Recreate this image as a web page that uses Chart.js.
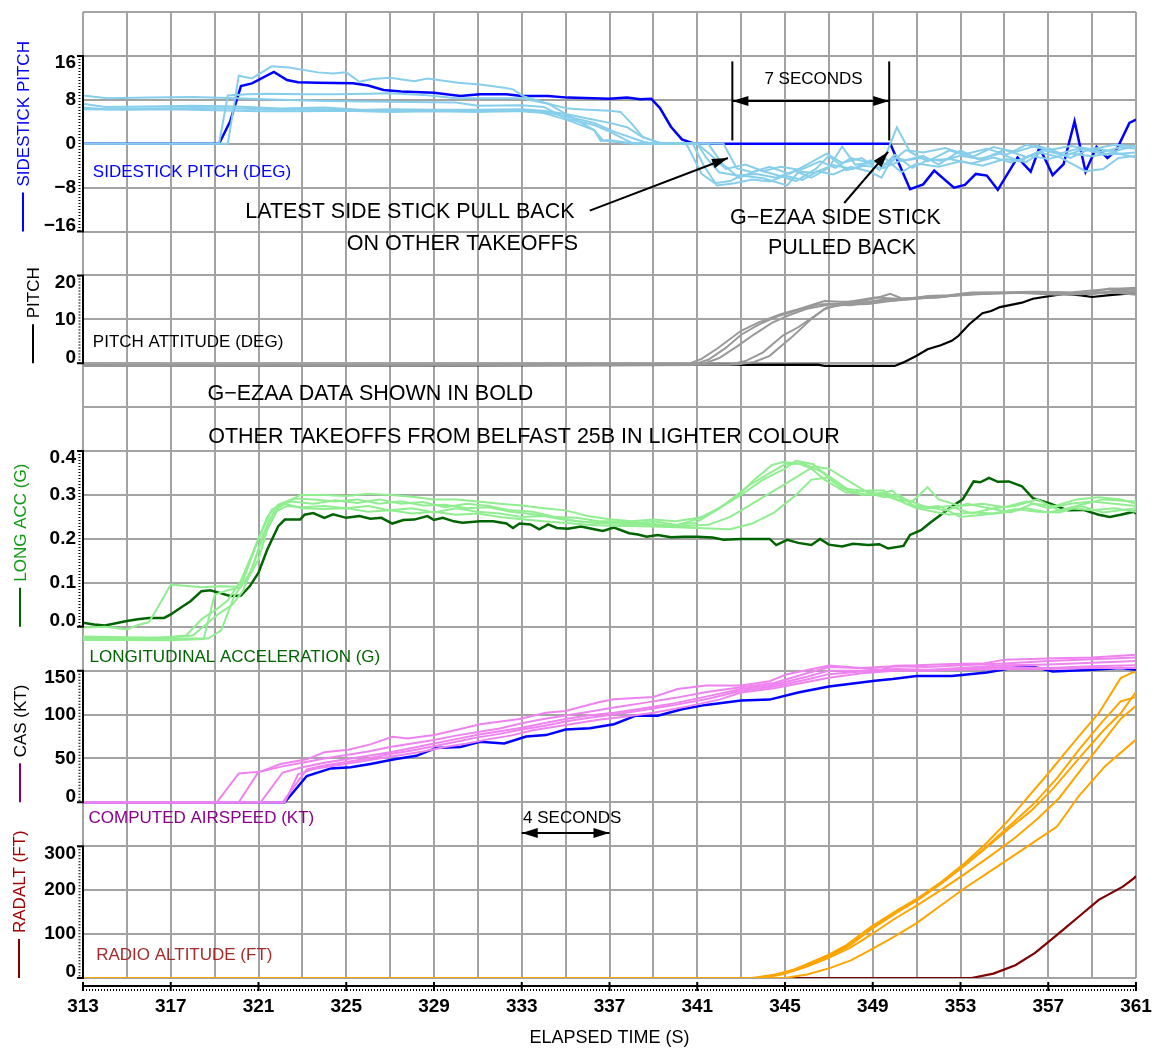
<!DOCTYPE html>
<html>
<head>
<meta charset="utf-8">
<title>G-EZAA takeoff comparison</title>
<script src="https://cdn.jsdelivr.net/npm/chart.js@4/dist/chart.umd.min.js"></script>
<style>
  html, body { margin: 0; padding: 0; background: #fff; }
  #wrap { width: 1153px; height: 1050px; position: relative; }
</style>
</head>
<body>
<div id="wrap"><canvas id="chart"></canvas></div>
<script>
// tick labels
const xTicks = [313, 317, 321, 325, 329, 333, 337, 341, 345, 349, 353, 357, 361];
const stickTicks = [16, 8, 0, -8, -16];
const pitchTicks = [20, 10, 0];
const accTicks = [0.4, 0.3, 0.2, 0.1, 0.0];
const casTicks = [150, 100, 50, 0];
const radaltTicks = [300, 200, 100, 0];

// sidestick pitch (deg) - [time, value]
const stickEzaa = [[313,0],[319.2,0],[319.7,4],[320.2,10.5],[320.7,11],[321.7,13.1],[322.3,11.6],[322.8,11.2],[323.7,11.1],[325.3,11.0],[326,10.6],[326.7,9.8],[327.5,9.5],[329,9.3],[330.2,8.7],[331.1,9.0],[332.3,9.0],[333,8.7],[334.2,8.7],[335.1,8.4],[337,8.2],[337.8,8.4],[338.4,8.1],[338.9,8.2],[339.3,6.5],[339.8,3.1],[340.3,0.8],[340.8,0.1],[341.2,0],[349.8,0],[350.7,-8.3],[351.3,-7.4],[351.8,-4.9],[352.7,-8],[353.2,-7.5],[353.7,-5.5],[354.2,-5.8],[354.7,-8.4],[355.6,-2.5],[356.2,-5.1],[356.6,-0.7],[357.2,-5.7],[357.7,-3.7],[358.2,4.1],[358.7,-5.1],[359.2,-0.6],[359.7,-2.6],[360.1,-1.2],[360.7,3.8],[361,4.4]];
const stickOthers = [
  [[313,0],[319.2,0],[319.6,8.8],[320.5,9.0],[321.5,9.1],[323,9.0],[324.5,9.0],[326,9.1],[327,9.2],[328.5,8.9],[330,8.3],[332,8.3],[333,8.3],[334.2,7.3],[335.1,6.4],[336,6.2],[337,6.0],[337.5,5.8],[338,3.7],[338.5,1.3],[339.2,0.2],[340.5,0],[341.2,-5.5],[341.8,-7.2],[342.5,-6.8],[343,-5.8],[344,-6.3],[345.1,-7.6],[345.6,-5.2],[346.2,-6.2],[347,-4.4],[347.6,-0.5],[348.2,-3.8],[349,-3.5],[349.6,-2],[350.1,3.0],[350.7,-1.5],[351.5,-3.2],[352.5,-1.2],[353.5,-2.5],[354.5,-0.6],[355.5,-1.5],[356.5,-0.3],[357.5,-1.8],[358.5,-0.8],[359.5,-1.5],[360.3,-0.6],[361,-0.9]],
  [[313,0],[319.6,0],[320.1,12.4],[320.7,11.9],[321.6,14.1],[322.4,13.9],[323.7,13.0],[324.4,12.8],[325,13.0],[325.6,11.3],[326.2,11.8],[327,12.0],[328.1,11.4],[328.7,11.9],[330.1,11.1],[331.1,10.8],[332.2,10.2],[332.6,9.9],[333.1,8.6],[334.2,7.3],[335.1,5.2],[336.3,2.5],[336.6,0.5],[337,0.7],[338.1,0],[340.8,0],[341.3,-4],[341.9,-7.6],[342.7,-7.2],[343.5,-6.5],[344.3,-6.9],[345,-5.8],[345.8,-6.6],[346.5,-5],[347.2,-5.6],[348,-4.2],[348.8,-5],[349.4,-6.2],[349.9,-2.5],[350.5,-3],[351.3,-2.2],[352,-3.8],[353,-1.2],[353.8,-2.8],[354.8,-1.8],[355.7,-3.2],[356.5,-1.5],[357.5,-2.4],[358.7,-5],[359.5,-4.6],[360.2,-2.6],[361,-2.2]],
  [[313,8.8],[314.1,8.3],[316,8.4],[318,8.5],[320,8.3],[322,8.0],[324,7.8],[326,7.7],[328,7.6],[330,7.5],[331,6.9],[333,7.0],[334,6.7],[335.1,4.5],[336.3,3.4],[337,2.2],[338,0.2],[342.2,0],[342.8,-4.5],[343.5,-5.2],[344.3,-4.2],[345.2,-5.5],[346,-3.8],[346.9,-1.8],[347.6,-3.5],[348.5,-2.6],[349.3,-4.8],[350,-2],[350.8,-4.4],[351.5,-3],[352.5,-2.8],[353.5,-3.6],[354.5,-2.5],[355.3,-3.4],[356.2,-2.2],[357,-2.8],[358,-1.8],[359,-2.3],[360,-1.6],[361,-2.5]],
  [[313,7.3],[314,6.7],[316,6.8],[318,6.9],[320,6.8],[322,6.4],[324,6.6],[326,6.1],[328,6.0],[330,6.1],[332,5.9],[333,5.9],[334,5.6],[335.1,4.3],[336.3,2.5],[336.7,0.6],[338.1,0],[341,0],[341.6,-2],[342.3,-4.6],[343.2,-3.8],[344,-5],[344.8,-4.2],[345.7,-4.8],[346.6,-3.2],[347.3,-4.4],[348,-2.6],[348.8,-3.4],[349.6,-2.8],[350.3,-5.2],[351,-3.6],[352,-4.2],[353,-3.2],[354,-4],[355,-2.8],[356,-3.3],[356.8,-1.2],[357.8,-2.2],[358.6,-1],[359.6,-2],[361,-1.6]],
  [[313,6.3],[315,6.2],[317,6.3],[319,6.1],[321,5.9],[323,5.9],[325,6.0],[327,5.8],[329,5.9],[331,5.8],[333,6.0],[334,5.8],[335.1,4.9],[336.3,3.8],[337.2,2.2],[338.5,0.4],[339,0],[341,0],[341.4,-2.5],[342,-5.2],[342.8,-5.8],[343.7,-5.5],[344.6,-6.2],[345.4,-5],[346.3,-5.3],[347.2,-3.9],[348.1,-4.6],[348.9,-3],[349.7,-3.8],[350.5,-1.2],[351.3,-1.6],[352.3,-0.8],[353.2,-1.9],[354.2,-0.9],[355.1,-2],[356,-0.2],[357,-1.2],[358,-0.4],[359,-1],[360,-0.2],[361,-0.5]],
  [[313,6.6],[314,6.3],[316,6.4],[318,6.5],[320,6.4],[322,6.2],[324,6.3],[325,6.1],[327,6.3],[329,6.2],[331,6.2],[333,6.3],[334,6.0],[335,5.4],[336,4.6],[337,3.8],[337.8,3.0],[338.5,1.2],[339.3,0.2],[341.5,0],[342.1,-3.5],[342.9,-6.2],[343.8,-4.8],[344.7,-5.8],[345.5,-6.8],[346.4,-4.6],[347,-2.2],[347.8,-4.8],[348.6,-4],[349.5,-4.4],[350.2,-3.2],[351.2,-2.6],[352.1,-3.1],[353,-2.2],[354,-2.8],[355,-1.1],[356,-2.4],[357,-0.8],[358,-2.6],[359,-0.8],[360,-1.4],[361,-0.3]]
];

// pitch attitude (deg)
const pitchEzaa = [[313,-0.6],[318,-0.6],[324,-0.5],[330,-0.5],[336,-0.4],[346.5,-0.3],[346.8,-0.6],[350,-0.6],[350.4,0.2],[351,1.7],[351.5,3.2],[352.1,4.1],[352.6,5.1],[352.9,6.2],[353.4,8.9],[354,11.4],[354.4,11.9],[354.8,12.8],[355.8,13.8],[356.3,14.7],[357.7,15.8],[358.4,15.5],[359,15.1],[359.8,15.5],[361,16]];
const pitchOthers = [
  [[313,-0.6],[320,-0.5],[330,-0.4],[340.5,-0.3],[341.2,1.0],[341.9,3.3],[343,7.4],[343.8,9.3],[344.8,11.2],[345.6,12.3],[346.8,14.2],[347.5,14.0],[348.4,14.0],[349.4,15.2],[349.8,15.8],[350.3,14.8],[351.8,15.0],[353.4,16.0],[355.8,16.0],[357.4,15.6],[359,16.2],[359.8,17],[361,16.8]],
  [[313,-0.5],[325,-0.4],[340.8,-0.3],[341.5,0.8],[342.3,3.5],[343,6.5],[343.8,8.8],[344.6,10.6],[345.5,12],[346.5,13.4],[347.5,13.6],[348.5,13.8],[349.5,14.5],[350.5,14.5],[351.5,15.3],[352.5,15.5],[353.5,16.1],[355,16.2],[356.5,16.3],[358,16.1],[359.5,16.8],[361,17.2]],
  [[313,-0.6],[326,-0.5],[341.2,-0.3],[342,1.2],[342.8,3.8],[343.6,6.6],[344.4,9.2],[345.2,11],[346,12.4],[347,13.4],[348,13.2],[349,14],[350,14.3],[351,15],[352,15],[353,15.6],[354.5,16],[356,16],[357.5,16.2],[359,15.8],[360,16.5],[361,16.4]],
  [[313,-0.5],[328,-0.4],[342.5,-0.3],[343.2,0.5],[344,2.5],[344.9,6.3],[345.6,8.2],[346.8,12.3],[347.8,13.9],[349.1,15.0],[350.5,14.6],[352,15.1],[353.5,15.8],[355,16],[357,16],[358,15.6],[359,16],[360,16.3],[361,16]],
  [[313,-0.4],[330,-0.4],[342.8,-0.3],[343.6,0.3],[344.3,1.7],[345.3,5.9],[346.2,10.1],[346.9,12.7],[347.8,13.4],[348.8,13.5],[349.8,14.2],[351,14.7],[352.5,15.3],[354,15.8],[355.5,16],[357,16],[358.5,15.7],[360,16.1],[361,15.6]]
];

// longitudinal acceleration (g)
const accEzaa = [[313,0.009],[313.5,0.005],[314,0.003],[314.5,0.008],[315,0.013],[315.5,0.017],[316,0.02],[316.7,0.02],[317,0.028],[317.5,0.045],[317.9,0.058],[318.4,0.081],[318.8,0.083],[319.3,0.076],[319.7,0.07],[320.2,0.071],[320.6,0.092],[321,0.123],[321.4,0.176],[321.9,0.229],[322.2,0.244],[322.9,0.244],[323.1,0.255],[323.5,0.259],[324,0.248],[324.4,0.256],[325,0.248],[325.6,0.252],[326.1,0.246],[326.6,0.248],[327.1,0.235],[327.6,0.243],[328.1,0.244],[328.7,0.252],[329,0.243],[329.4,0.248],[329.9,0.24],[330.3,0.237],[331.1,0.24],[331.7,0.24],[332.3,0.235],[332.6,0.225],[332.9,0.235],[333.4,0.233],[333.8,0.222],[334.2,0.233],[334.6,0.225],[335.1,0.223],[335.7,0.228],[336.3,0.222],[336.7,0.218],[337.2,0.226],[337.9,0.213],[338.3,0.21],[338.7,0.205],[339.2,0.209],[339.8,0.204],[340.4,0.205],[341,0.205],[341.7,0.203],[342.2,0.198],[343,0.2],[344.3,0.2],[344.6,0.186],[345.1,0.198],[345.6,0.191],[346.2,0.186],[346.6,0.2],[347,0.187],[347.6,0.183],[348.1,0.189],[348.8,0.186],[349.3,0.188],[349.7,0.178],[350.4,0.184],[350.7,0.209],[351.2,0.22],[351.6,0.236],[352,0.251],[352.6,0.274],[353.1,0.29],[353.6,0.331],[353.9,0.329],[354.3,0.339],[354.7,0.33],[355.2,0.331],[355.8,0.32],[356.3,0.293],[357.1,0.28],[357.9,0.265],[358.6,0.266],[359.3,0.255],[359.8,0.25],[360.3,0.255],[360.9,0.262],[361,0.258]];
const accOthers = [
  [[313,-0.002],[314,0],[315,-0.006],[315.5,0.004],[316,0.01],[316.4,0.043],[317,0.096],[317.5,0.094],[318.4,0.09],[319.3,0.092],[320,0.091],[320.5,0.108],[321,0.153],[321.4,0.221],[321.9,0.27],[322.5,0.289],[322.9,0.3],[324,0.3],[325,0.298],[326,0.303],[327,0.3],[328,0.296],[329,0.29],[330,0.29],[331,0.285],[332,0.28],[333,0.276],[334,0.27],[335,0.265],[336,0.252],[337,0.245],[338,0.24],[339,0.244],[340,0.24],[341.3,0.25],[342.3,0.28],[343.3,0.32],[344.3,0.35],[345,0.37],[345.8,0.372],[346.8,0.35],[347.8,0.315],[348.5,0.3],[349.5,0.305],[350.5,0.29],[351.3,0.275],[352.3,0.265],[353.3,0.28],[354.3,0.27],[355.3,0.26],[356.3,0.28],[357.3,0.275],[358.3,0.29],[359.3,0.295],[360.3,0.29],[361,0.28]],
  [[313,-0.022],[315,-0.024],[316.5,-0.025],[317.7,-0.02],[318.4,0.017],[319.1,0.04],[319.6,0.06],[320.2,0.105],[320.8,0.176],[321.4,0.25],[321.9,0.278],[322.5,0.285],[323.5,0.28],[324.5,0.288],[325.5,0.282],[326.5,0.29],[327.5,0.28],[328.5,0.284],[329.5,0.272],[330.5,0.28],[331.5,0.275],[332.5,0.265],[333.5,0.262],[334.5,0.25],[335.5,0.248],[336.5,0.24],[337,0.24],[338.5,0.236],[340,0.23],[341,0.245],[342,0.27],[343,0.3],[344,0.335],[345,0.36],[345.5,0.378],[346.3,0.37],[347.2,0.33],[348,0.305],[349,0.3],[349.9,0.31],[350.5,0.28],[351.5,0.27],[352.5,0.275],[353.5,0.258],[354.5,0.27],[355.5,0.275],[356.5,0.29],[357.5,0.265],[358.5,0.278],[359.5,0.29],[361,0.285]],
  [[313,-0.03],[315,-0.03],[317,-0.031],[318.5,-0.028],[319,0.073],[319.6,0.083],[320.2,0.09],[320.7,0.13],[321.2,0.21],[321.7,0.26],[322.3,0.275],[323,0.272],[324,0.275],[325,0.27],[326,0.275],[327,0.265],[328,0.27],[329,0.26],[330,0.27],[331,0.262],[332,0.258],[333,0.25],[334,0.252],[335,0.243],[336,0.238],[337,0.235],[338.5,0.232],[340,0.228],[341.5,0.232],[342.5,0.25],[343.5,0.28],[344.5,0.31],[345.5,0.34],[346.3,0.365],[347,0.36],[347.8,0.335],[348.8,0.305],[349.5,0.295],[350.2,0.3],[351,0.27],[351.8,0.262],[352.5,0.255],[353.5,0.26],[354.5,0.258],[355.5,0.268],[356.5,0.262],[357.5,0.26],[358.5,0.275],[359.5,0.26],[361,0.27]],
  [[313,-0.028],[315,-0.028],[317,-0.027],[318.7,-0.027],[319.3,-0.008],[319.9,0.07],[320.2,0.092],[321,0.2],[321.6,0.267],[322.2,0.28],[323,0.27],[324,0.268],[325,0.27],[326,0.262],[327,0.265],[328,0.258],[329,0.262],[330,0.255],[331,0.258],[332,0.25],[333,0.245],[334,0.24],[335,0.236],[336,0.232],[337,0.23],[339,0.228],[341,0.225],[342.5,0.222],[343.5,0.235],[344.5,0.26],[345.5,0.3],[346.2,0.335],[347,0.34],[347.6,0.315],[348.5,0.31],[349.5,0.3],[350.3,0.285],[351,0.27],[352,0.275],[353,0.25],[354,0.255],[355,0.26],[356,0.27],[357,0.26],[358,0.27],[359,0.265],[360,0.27],[361,0.262]],
  [[313,-0.025],[315,-0.027],[317,-0.024],[318,-0.02],[318.6,0.005],[319.2,0.03],[319.8,0.05],[320.3,0.082],[320.9,0.16],[321.5,0.245],[322,0.28],[322.6,0.292],[323.5,0.29],[324.5,0.285],[325.5,0.29],[326.5,0.28],[327.5,0.286],[328.5,0.276],[329.5,0.278],[330.5,0.27],[331.5,0.272],[332.5,0.262],[333.5,0.256],[334.5,0.25],[335.5,0.24],[336.5,0.236],[337,0.238],[338,0.235],[339,0.24],[340,0.232],[340.9,0.236],[341.9,0.266],[343,0.305],[343.6,0.335],[344.4,0.368],[344.9,0.375],[345.6,0.372],[346.2,0.36],[346.8,0.335],[347.8,0.305],[348.8,0.31],[349.5,0.31],[350.1,0.29],[350.8,0.285],[351.5,0.318],[352,0.29],[353,0.275],[354,0.28],[355,0.272],[356,0.285],[357,0.27],[358,0.28],[359,0.285],[360,0.28],[361,0.275]]
];

// computed airspeed (kt)
const casEzaa = [[313,0],[322.2,0],[323.2,30],[324.3,38.7],[325.2,40],[326.1,43.6],[327.2,49],[328.2,53],[329.1,62],[330.2,63],[331.1,69],[332.2,67],[333.2,75],[334.1,76.6],[335,83],[336.1,84.5],[337.2,89],[338.2,98.7],[339.2,98.7],[340.3,106],[341.4,111],[343,116],[344.3,117],[345.6,125],[347,132],[349.1,138.6],[349.9,140.5],[351,144],[352.6,144],[354.2,148],[355.8,155],[356.4,154],[357.2,149],[359,151],[360.3,153],[361,151]];
const casOthers = [
  [[313,0],[319.1,0],[320.1,33],[321.1,35],[322,43.6],[323.2,49],[324,57],[325.1,60],[326.1,66],[327.1,74.7],[327.8,72.8],[329,76.6],[330.1,83],[331.1,89],[332.9,95],[334.1,102],[335,104],[336.5,114],[337.2,117.5],[338,118.5],[339,120],[340.1,129],[341.4,133],[343,133],[344.3,138],[345.1,146],[347,155.7],[349.4,151],[350,155.7],[351,156],[352.6,157.6],[354,158],[355,162.5],[357.4,164],[359,165],[361,168]],
  [[313,0],[320.1,0],[321,34.6],[322.1,41],[323,45],[324,50],[325,54],[326,58],[327,63],[328,67],[329,71],[330,76],[331,80],[332,84],[333,90],[334,95],[335,99],[336,103],[337.2,108],[338.5,113],[340,119],[341.5,126],[343,131],[344.5,136],[346,147],[347,154],[348.5,153],[350,155],[351.5,154],[353,156],[355,158],[357,161],[359,163],[361,165]],
  [[313,0],[321.1,0],[322.1,34],[323,40],[324,45],[325,49],[326,53],[327,57],[328,62],[329,67],[330,72],[331,77],[332,81],[333,85],[334,90],[335,95],[336,99],[337.2,102],[338.5,107],[340,113],[341.5,121],[343,129],[344.5,134],[346,143],[347,150],[348.5,150],[350,152],[351.5,151],[353,153],[355,156],[357,157],[359,159],[361,161]],
  [[313,0],[322.1,0],[323.2,37.6],[324,42],[325,46],[326,50],[327,55],[328,59],[329,64],[330,69],[331,74],[332,78],[333,83],[334,87],[335,92],[336,96],[337.2,100],[338.5,105],[340,111],[341.5,118],[343,127],[344.5,132],[346,140],[347,146],[348.5,149],[350,151],[351.5,150],[353,152],[355,154],[357,153],[359,155],[361,156]],
  [[313,0],[322.2,0],[322.8,32],[323.5,38],[324.5,42],[325.5,46],[326.5,50],[327.5,54],[328.5,58],[329.5,63],[330.5,67],[331.5,72],[332.5,76],[333.5,82],[334.5,86],[335.5,90],[336.5,94],[337.5,97],[339,102],[340.5,109],[342,117],[343,125],[344.5,130],[346,137],[347,142],[348.5,147],[350,150],[351.5,150],[353,151],[355,152],[357,152],[359,153],[361,153]]
];

// radio altitude (ft)
const radaltEzaa = [[313,0],[353.5,0],[354.5,10],[355.5,29],[356.4,57],[357.4,98],[358.4,140],[359.3,178],[360.4,208],[360.9,227],[361,232]];
const radaltOthers = [
  [[313,0],[343.5,0],[344.6,8],[345.4,19],[346.2,36],[347,53],[347.8,75],[348.9,116],[350.2,157],[351,180],[352.1,218],[353.2,262],[354.2,308],[355.2,360],[355.8,396],[356.9,460],[358.4,551],[359.3,603],[360.3,683],[360.8,695],[361,697]],
  [[313,0],[343.8,0],[344.8,8],[345.6,20],[346.4,36],[347.2,54],[348,76],[348.9,110],[350.2,152],[351,176],[352.1,214],[353.2,256],[354.2,298],[355.2,340],[356.2,380],[357.2,430],[358.4,500],[359.5,563],[360.3,603],[361,652]],
  [[313,0],[344,0],[345,10],[346,26],[347,46],[348,70],[348.9,98],[350,135],[351,165],[352.1,200],[353.2,237],[354.3,276],[355.5,320],[356.5,362],[357.5,410],[358.5,475],[359.6,545],[360.3,590],[361,620]],
  [[313,0],[345,0],[346,8],[347,22],[348,40],[348.9,64],[350,95],[351,125],[352.1,165],[353.2,205],[354.5,248],[356,298],[357.4,345],[358.4,415],[359.6,483],[361,543]],
  [[313,0],[343.7,0],[344.7,9],[345.5,20],[346.3,34],[347.1,52],[348,78],[348.9,112],[350.2,154],[351,177],[352.1,216],[353.2,258],[354.2,300],[355.2,345],[356.3,395],[357.4,455],[358.4,520],[359.4,580],[360.3,630],[361,640]]
];

const FONT = "'Liberation Sans', Arial, sans-serif";
const GRID = '#a3a3a3';

const datasets = [];
function addRun(data, axis, color, width) {
  datasets.push({
    data: data.map(p => ({x: p[0], y: p[1]})),
    yAxisID: axis,
    borderColor: color,
    backgroundColor: color,
    borderWidth: width,
    pointRadius: 0,
    tension: 0,
    fill: false
  });
}
// lighter runs first so they sit on top of the bold ones
radaltOthers.forEach(r => addRun(r, 'radalt', '#ffa500', 2));
casOthers.forEach(r => addRun(r, 'cas', '#ee82ee', 2));
accOthers.forEach(r => addRun(r, 'acc', '#90ee90', 2));
pitchOthers.forEach(r => addRun(r, 'pitch', '#999999', 2));
stickOthers.forEach(r => addRun(r, 'stick', '#87ceeb', 2));
addRun(radaltEzaa, 'radalt', '#800000', 2.2);
addRun(casEzaa, 'cas', '#0000ff', 2.5);
addRun(accEzaa, 'acc', '#006400', 2.5);
addRun(pitchEzaa, 'pitch', '#000000', 2.2);
addRun(stickEzaa, 'stick', '#0000ff', 2.5);

// value axes have zero width; their tick labels are painted by the decor plugin
function valueAxis(min, max, ticks, digits) {
  return {
    type: 'linear', position: 'left', min: min, max: max,
    afterBuildTicks: s => { s.ticks = ticks.map(v => ({value: v})); },
    afterFit: s => { s.width = 0; },
    grid: {display: false, drawTicks: false},
    border: {display: false},
    ticks: {display: false, callback: v => (v < 0 ? '\u2212' : '') + Math.abs(v).toFixed(digits)}
  };
}

// panel furniture: brackets, rotated titles, inner labels
const panels = [
  {id: 'stick', lo: -16, hi: 16, title: 'SIDESTICK PITCH', tColor: '#0000ff', lColor: '#0000ff', tx: 23,
   label: 'SIDESTICK PITCH (DEG)', labColor: '#0000ff', labT: 313.45, labV: -5.2},
  {id: 'pitch', lo: 0, hi: 20, title: 'PITCH', tColor: '#000', lColor: '#000', tx: 33,
   label: 'PITCH ATTITUDE (DEG)', labColor: '#000', labT: 313.45, labV: 4.8},
  {id: 'acc', lo: 0, hi: 0.4, title: 'LONG ACC (G)', tColor: '#129a12', lColor: '#006400', tx: 20,
   label: 'LONGITUDINAL ACCELERATION (G)', labColor: '#006400', labT: 313.3, labV: -0.07},
  {id: 'cas', lo: 0, hi: 150, title: 'CAS (KT)', tColor: '#000', lColor: '#800080', tx: 20,
   label: 'COMPUTED AIRSPEED (KT)', labColor: '#8b008b', labT: 313.25, labV: -18},
  {id: 'radalt', lo: 0, hi: 300, title: 'RADALT (FT)', tColor: '#a00000', lColor: '#800000', tx: 19,
   label: 'RADIO ALTITUDE (FT)', labColor: '#a52a2a', labT: 313.6, labV: 52}
];

function arrowHead(ctx, x1, y1, x2, y2) {
  const a = Math.atan2(y2 - y1, x2 - x1), len = 16, wid = 5;
  ctx.beginPath();
  ctx.moveTo(x2, y2);
  ctx.lineTo(x2 - len * Math.cos(a) + wid * Math.sin(a), y2 - len * Math.sin(a) - wid * Math.cos(a));
  ctx.lineTo(x2 - len * Math.cos(a) - wid * Math.sin(a), y2 - len * Math.sin(a) + wid * Math.cos(a));
  ctx.closePath();
  ctx.fill();
}
function arrow(ctx, x1, y1, x2, y2, both) {
  ctx.beginPath(); ctx.moveTo(x1, y1); ctx.lineTo(x2, y2); ctx.stroke();
  arrowHead(ctx, x1, y1, x2, y2);
  if (both) arrowHead(ctx, x2, y2, x1, y1);
}

const decor = {
  id: 'decor',
  afterDraw(chart) {
    const ctx = chart.ctx, xs = chart.scales.x, area = chart.chartArea;
    const px = t => xs.getPixelForValue(t);
    const py = (id, v) => chart.scales[id].getPixelForValue(v);
    ctx.save();

    panels.forEach(p => {
      const sc = chart.scales[p.id];
      const yTop = py(p.id, p.hi), yBot = py(p.id, p.lo), xb = area.left;
      // bracket
      ctx.strokeStyle = '#000'; ctx.lineWidth = 2; ctx.setLineDash([]);
      ctx.beginPath();
      ctx.moveTo(xb - 6, yTop); ctx.lineTo(xb, yTop); ctx.lineTo(xb, yBot); ctx.lineTo(xb - 6, yBot);
      ctx.stroke();
      ctx.setLineDash([1, 2]);
      ctx.beginPath(); ctx.moveTo(xb - 3.5, yTop); ctx.lineTo(xb - 3.5, yBot); ctx.stroke();
      ctx.setLineDash([]);
      // tick labels from the axis ticks (end labels pulled inside the bracket)
      ctx.fillStyle = '#000';
      ctx.font = 'bold 19px ' + FONT;
      ctx.textAlign = 'right'; ctx.textBaseline = 'middle';
      sc.ticks.forEach(t => {
        let y = sc.getPixelForValue(t.value);
        if (t.value === p.hi) y += 7;
        else if (t.value === p.lo) y -= 6;
        ctx.fillText(sc.options.ticks.callback(t.value), xb - 7, y);
      });
      // rotated title with legend stroke
      ctx.strokeStyle = p.lColor;
      ctx.beginPath(); ctx.moveTo(p.tx, yBot); ctx.lineTo(p.tx, yBot - 39); ctx.stroke();
      ctx.save();
      ctx.translate(p.tx, yBot - 45);
      ctx.rotate(-Math.PI / 2);
      ctx.fillStyle = p.tColor;
      ctx.font = '17px ' + FONT;
      ctx.textAlign = 'left'; ctx.textBaseline = 'middle';
      ctx.fillText(p.title, 0, 1);
      ctx.restore();
      // label inside the panel
      ctx.fillStyle = p.labColor;
      ctx.font = '17px ' + FONT;
      ctx.textAlign = 'left'; ctx.textBaseline = 'middle';
      ctx.fillText(p.label, px(p.labT), py(p.id, p.labV));
    });

    // annotations
    ctx.fillStyle = '#000'; ctx.strokeStyle = '#000'; ctx.lineWidth = 2;
    ctx.textAlign = 'center'; ctx.textBaseline = 'middle';
    ctx.font = '21.5px ' + FONT;
    ctx.fillText('LATEST SIDE STICK PULL BACK', px(327.9), py('stick', -12.4));
    ctx.fillText('ON OTHER TAKEOFFS', px(330.3), py('stick', -18.2));
    ctx.fillText('G\u2212EZAA SIDE STICK', px(347.3), py('stick', -13.5));
    ctx.fillText('PULLED BACK', px(347.6), py('stick', -19));
    ctx.fillText('G\u2212EZAA DATA SHOWN IN BOLD', px(326.1), py('pitch', -7.1));
    ctx.fillText('OTHER TAKEOFFS FROM BELFAST 25B IN LIGHTER COLOUR', px(333.1), py('pitch', -16.9));
    arrow(ctx, px(336.1), py('stick', -12.2), px(342.4), py('stick', -2.6));
    arrow(ctx, px(347.7), py('stick', -10.8), px(349.7), py('stick', -1.5));

    ctx.font = '17px ' + FONT;
    ctx.fillText('7 SECONDS', px(346.3), py('stick', 11.7));
    [342.6, 349.75].forEach(t => {
      ctx.beginPath(); ctx.moveTo(px(t), py('stick', 15)); ctx.lineTo(px(t), py('stick', 0.6)); ctx.stroke();
    });
    arrow(ctx, px(342.6), py('stick', 7.8), px(349.75), py('stick', 7.8), true);

    ctx.fillText('4 SECONDS', px(335.3), py('cas', -18.5));
    arrow(ctx, px(333), py('cas', -35), px(337), py('cas', -35), true);

    // time ruler under the plot
    const yr = area.bottom + 8;
    ctx.lineWidth = 2;
    ctx.beginPath(); ctx.moveTo(area.left, yr); ctx.lineTo(area.right, yr); ctx.stroke();
    ctx.setLineDash([1, 2]);
    ctx.beginPath(); ctx.moveTo(area.left, yr + 4); ctx.lineTo(area.right, yr + 4); ctx.stroke();
    ctx.setLineDash([]);
    xTicks.forEach(t => {
      ctx.beginPath(); ctx.moveTo(px(t), yr - 4); ctx.lineTo(px(t), yr + 5); ctx.stroke();
    });
    ctx.restore();
  }
};

const gridTimes = [];
for (let t = xTicks[0]; t <= xTicks[xTicks.length - 1]; t += 2) gridTimes.push(t);

new Chart(document.getElementById('chart'), {
  type: 'line',
  data: {datasets: datasets},
  options: {
    responsive: true,
    maintainAspectRatio: false,
    animation: false,
    layout: {padding: {left: 83, right: 17, top: 12, bottom: 0}},
    plugins: {legend: {display: false}, tooltip: {enabled: false}},
    scales: {
      x: {
        type: 'linear', min: 313, max: 361,
        afterBuildTicks: s => { s.ticks = gridTimes.map(v => ({value: v})); },
        afterFit: s => { s.height = 72; s.paddingLeft = 0; s.paddingRight = 0; },
        grid: {color: GRID, lineWidth: 2, drawTicks: false},
        border: {display: false},
        ticks: {
          autoSkip: false, maxRotation: 0, padding: 17, color: '#000',
          font: {family: FONT, size: 19, weight: 'bold'},
          callback: v => xTicks.includes(v) ? String(v) : ''
        },
        title: {display: true, text: 'ELAPSED TIME (S)', color: '#000',
                font: {family: FONT, size: 18}, padding: {top: 0, bottom: 1}}
      },
      yg: {
        type: 'linear', position: 'left', min: 0, max: 22,
        afterBuildTicks: s => { s.ticks = Array.from({length: 23}, (_, i) => ({value: i})); },
        afterFit: s => { s.width = 0; },
        grid: {color: GRID, lineWidth: 2, drawTicks: false},
        border: {display: false},
        ticks: {display: false}
      },
      stick: valueAxis(-152, 24, stickTicks, 0),
      pitch: valueAxis(-140, 80, pitchTicks, 0),
      acc: valueAxis(-0.8, 1.4, accTicks, 1),
      cas: valueAxis(-200, 900, casTicks, 0),
      radalt: valueAxis(0, 2200, radaltTicks, 0)
    }
  },
  plugins: [decor]
});
</script>
</body>
</html>
